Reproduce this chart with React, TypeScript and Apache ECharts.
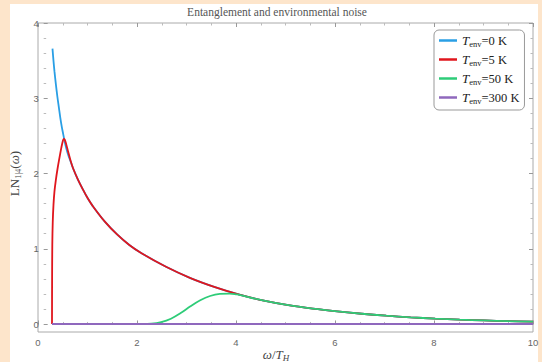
import React, { useEffect, useRef } from "react";
import * as echarts from "echarts";

// ---- data ----
const seriesNames = ["Tenv=0 K", "Tenv=5 K", "Tenv=50 K", "Tenv=300 K"];
const legendTemps = ["0", "5", "50", "300"];
const seriesColors = ["#2a9fe5", "#e0161d", "#2ecc78", "#8f68bd"];

const xTicks = [0, 2, 4, 6, 8, 10];
const yTicks = [0, 1, 2, 3, 4];

// T_env = 0 K
const blueData: [number, number][] = [
  [0.18, 3.66], [0.2, 3.5], [0.22, 3.36], [0.25, 3.18], [0.28, 3.02], [0.31, 2.88],
  [0.34, 2.74], [0.37, 2.62], [0.4, 2.52], [0.43, 2.42], [0.46, 2.34], [0.5, 2.25],
  [0.55, 2.16], [0.6, 2.07], [0.7, 1.92], [0.8, 1.79], [0.9, 1.67], [1.0, 1.57],
  [1.25, 1.36], [1.5, 1.19], [1.75, 1.05], [2.0, 0.94], [2.5, 0.76], [3.0, 0.61],
  [3.5, 0.49], [4.0, 0.39], [4.5, 0.31], [5.0, 0.25], [5.5, 0.205], [6.0, 0.168],
  [6.5, 0.136], [7.0, 0.11], [7.5, 0.089], [8.0, 0.072], [8.5, 0.058], [9.0, 0.047],
  [9.5, 0.038], [10.0, 0.031],
];

// T_env = 5 K
const redData: [number, number][] = [
  [0.17, 0], [0.172, 0.6], [0.176, 1.05], [0.185, 1.35], [0.2, 1.58], [0.22, 1.76],
  [0.25, 1.92], [0.28, 2.05], [0.32, 2.2], [0.36, 2.34], [0.39, 2.43], [0.41, 2.46],
  [0.43, 2.45], [0.46, 2.39], [0.5, 2.29], [0.55, 2.17], [0.6, 2.07], [0.7, 1.92],
  [0.8, 1.79], [0.9, 1.67], [1.0, 1.57], [1.25, 1.36], [1.5, 1.19], [1.75, 1.05],
  [2.0, 0.94], [2.5, 0.76], [3.0, 0.61], [3.5, 0.49], [4.0, 0.39], [4.5, 0.31],
  [5.0, 0.25], [5.5, 0.205], [6.0, 0.168], [6.5, 0.136], [7.0, 0.11], [7.5, 0.089],
  [8.0, 0.072], [8.5, 0.058], [9.0, 0.047], [9.5, 0.038], [10.0, 0.031],
];

// T_env = 50 K
const greenData: [number, number][] = [
  [0.17, 0], [1.0, 0], [2.0, 0], [2.2, 0.004], [2.4, 0.025], [2.6, 0.07], [2.8, 0.145],
  [3.0, 0.235], [3.2, 0.315], [3.4, 0.372], [3.6, 0.4], [3.8, 0.404], [3.95, 0.393],
  [4.0, 0.388], [4.5, 0.31], [5.0, 0.25], [5.5, 0.205], [6.0, 0.168], [6.5, 0.136],
  [7.0, 0.11], [7.5, 0.089], [8.0, 0.072], [8.5, 0.058], [9.0, 0.047], [9.5, 0.038],
  [10.0, 0.031],
];

// T_env = 300 K
const purpleData: [number, number][] = [
  [0.17, 0], [2.0, 0], [4.0, 0], [6.0, 0], [8.0, 0], [10.0, 0],
];

const allData = [blueData, redData, greenData, purpleData];

const SERIF = "'Liberation Serif', 'DejaVu Serif', serif";
const SANS = "'Liberation Sans', 'DejaVu Sans', sans-serif";

export default function App() {
  const ref = useRef<HTMLDivElement>(null);

  useEffect(() => {
    if (!ref.current) return;
    const chart = echarts.init(ref.current, undefined, { renderer: "svg" });

    const tickCommon = {
      axisLine: { show: false },
      axisTick: { show: true, inside: true, length: 4, lineStyle: { color: "#999", width: 1 } },
      minorTick: { show: true, length: 2.5, lineStyle: { color: "#bbb", width: 1 } },
      splitLine: { show: false },
      minorSplitLine: { show: false },
    };

    const option: any = {
      animation: false,
      backgroundColor: "#fde5cb",
      graphic: [
        {
          type: "rect",
          z: -10,
          silent: true,
          shape: { x: 10, y: 4, width: 528, height: 358 },
          style: { fill: "#ffffff" },
        },
        {
          type: "text",
          x: 277,
          y: 12,
          style: {
            text: "Entanglement and environmental noise",
            fill: "#555",
            font: `11.5px ${SERIF}`,
            textAlign: "center",
            textVerticalAlign: "middle",
          },
        },
        {
          type: "text",
          x: 276,
          y: 354,
          style: {
            text: "{i|ω}{n|/}{i|T}{s|H}",
            textAlign: "center",
            textVerticalAlign: "middle",
            rich: {
              i: { fontFamily: SERIF, fontStyle: "italic", fontSize: 13, fill: "#444", lineHeight: 16 },
              n: { fontFamily: SERIF, fontSize: 13, fill: "#444", lineHeight: 16 },
              s: { fontFamily: SERIF, fontStyle: "italic", fontSize: 9, fill: "#444", lineHeight: 12, verticalAlign: "bottom" },
            },
          },
        },
      ],
      grid: [
        {
          left: 38, right: 9, top: 23, bottom: 30,
          show: true, borderColor: "#aaa", borderWidth: 1, backgroundColor: "transparent",
        },
        { left: 38, right: 9, top: 23, bottom: 38, show: false },
      ],
      xAxis: [
        {
          gridIndex: 0, type: "value", min: xTicks[0], max: xTicks[xTicks.length - 1], interval: 2,
          position: "bottom",
          ...tickCommon,
          minorTick: { ...tickCommon.minorTick, splitNumber: 4 },
          axisLabel: { color: "#666", fontSize: 9.5, fontFamily: SANS, margin: 5 },
        },
        {
          gridIndex: 0, type: "value", min: xTicks[0], max: xTicks[xTicks.length - 1], interval: 2,
          position: "top",
          ...tickCommon,
          minorTick: { ...tickCommon.minorTick, splitNumber: 4 },
          axisLabel: { show: false },
        },
        { gridIndex: 1, type: "value", min: 0, max: 10, show: false },
      ],
      yAxis: [
        { gridIndex: 0, type: "value", min: -0.1, max: 4, show: false },
        {
          gridIndex: 1, type: "value", min: yTicks[0], max: yTicks[yTicks.length - 1], interval: 1,
          position: "left",
          ...tickCommon,
          minorTick: { ...tickCommon.minorTick, splitNumber: 5 },
          axisLabel: { color: "#666", fontSize: 9.5, fontFamily: SANS, margin: 5 },
          name: "{n|LN}{s|1|4}{n|(}{i|ω}{n|)}",
          nameLocation: "middle",
          nameGap: 20,
          nameRotate: 90,
          nameTextStyle: {
            rich: {
              n: { fontFamily: SERIF, fontSize: 13, color: "#444", lineHeight: 16 },
              i: { fontFamily: SERIF, fontStyle: "italic", fontSize: 13, color: "#444", lineHeight: 16 },
              s: { fontFamily: SERIF, fontSize: 8.5, color: "#444", lineHeight: 12, verticalAlign: "bottom" },
            },
          },
        },
        {
          gridIndex: 1, type: "value", min: 0, max: 4, interval: 1,
          position: "right",
          ...tickCommon,
          minorTick: { ...tickCommon.minorTick, splitNumber: 5 },
          axisLabel: { show: false },
        },
      ],
      legend: {
        orient: "vertical",
        left: 434,
        top: 30,
        backgroundColor: "#fff",
        borderColor: "#999",
        borderWidth: 1,
        borderRadius: 5,
        padding: [4, 5, 5, 5],
        itemGap: 5,
        itemWidth: 18,
        itemHeight: 2.5,
        icon: "rect",
        data: seriesNames,
        formatter: (name: string) => {
          const idx = seriesNames.indexOf(name);
          return `{i|T}{s|env}{n|=${legendTemps[idx]} K}`;
        },
        textStyle: {
          rich: {
            i: { fontFamily: SERIF, fontStyle: "italic", fontSize: 13, color: "#222", lineHeight: 15 },
            n: { fontFamily: SERIF, fontSize: 12.5, color: "#222", lineHeight: 15 },
            s: { fontFamily: SERIF, fontSize: 8.5, color: "#222", lineHeight: 11, verticalAlign: "bottom" },
          },
        },
      },
      series: allData.map((d, i) => ({
        name: seriesNames[i],
        type: "line",
        xAxisIndex: 2,
        yAxisIndex: 1,
        data: d,
        showSymbol: false,
        symbol: "none",
        smooth: 0.35,
        clip: false,
        color: seriesColors[i],
        lineStyle: { color: seriesColors[i], width: i === 3 ? 2.2 : 1.8 },
        z: 2 + i,
      })),
    };

    chart.setOption(option);
    return () => chart.dispose();
  }, []);

  return (
    <div style={{ position: "fixed", left: 0, top: 0, width: 542, height: 362 }}>
      <div ref={ref} style={{ width: 542, height: 362 }} />
    </div>
  );
}
